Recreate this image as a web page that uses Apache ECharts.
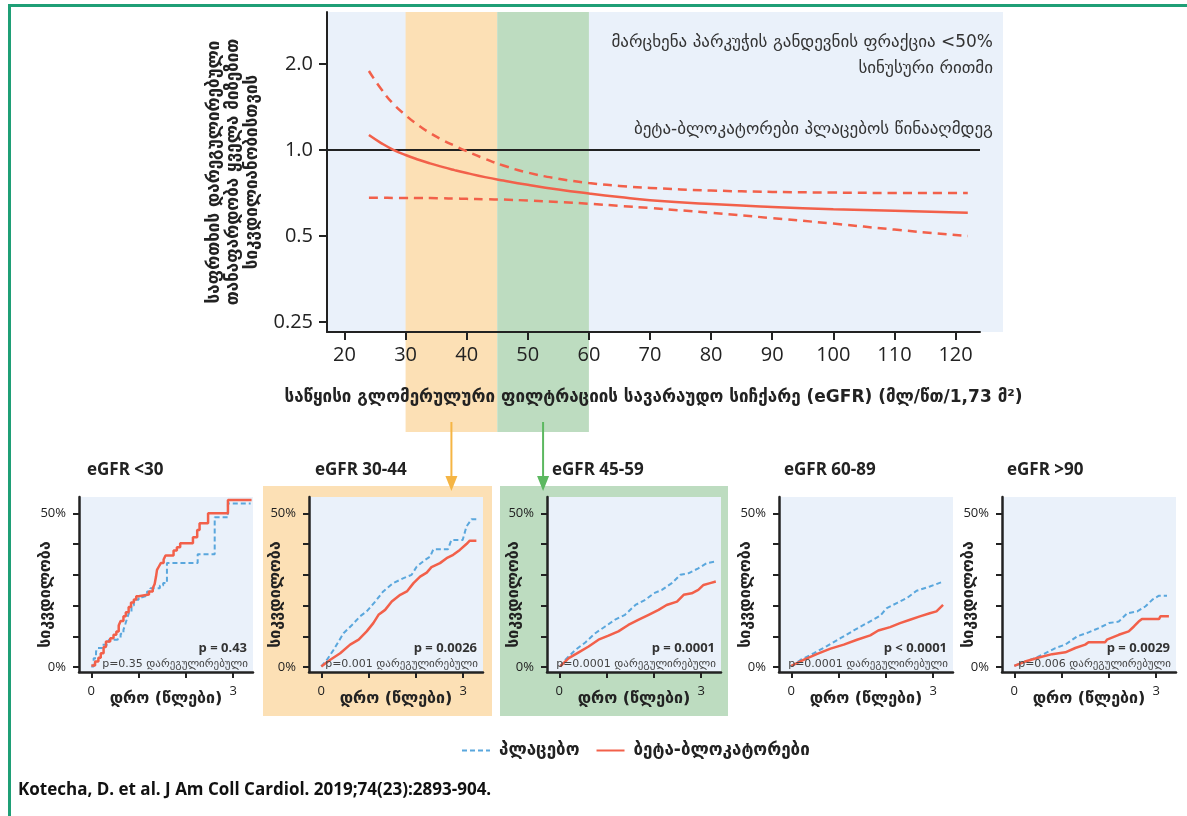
<!DOCTYPE html>
<html><head><meta charset="utf-8">
<script src="https://cdn.jsdelivr.net/npm/echarts@6/dist/echarts.min.js"></script>
<style>html,body{margin:0;padding:0;background:#fff}#c{width:1187px;height:816px}</style>
</head><body><div id="c"></div>
<script>
// ---------------- DATA ----------------
// Main chart: hazard ratio vs baseline eGFR
const egfrX    = [24,26,28,30,32,34,36,38,40,43,46,50,55,60,65,70,80,90,100,110,122];
const hrMain   = [1.128,1.058,1.002,0.961,0.927,0.898,0.873,0.851,0.831,0.804,0.782,0.756,0.728,0.705,0.685,0.668,0.647,0.632,0.621,0.613,0.604];
const hrUpper  = [1.89,1.635,1.449,1.324,1.225,1.147,1.086,1.036,0.991,0.932,0.883,0.834,0.794,0.767,0.749,0.737,0.722,0.714,0.710,0.708,0.708];
const hrLower  = [0.681,0.681,0.680,0.680,0.679,0.679,0.678,0.677,0.675,0.673,0.671,0.666,0.658,0.649,0.638,0.627,0.603,0.578,0.553,0.527,0.50];
const hrTicks      = [0.25,0.5,1,2];
const hrTickLabels = ['0.25','0.5','1.0','2.0'];
const egfrTicks    = [20,30,40,50,60,70,80,90,100,110,120];
const bandRanges   = [[30,45],[45,60]];
const arrowAt      = [37.5,52.5];

// Kaplan-Meier panels: [years, mortality %]
const panelTitles = ['eGFR <30','eGFR 30-44','eGFR 45-59','eGFR 60-89','eGFR >90'];
const pCrude      = ['p = 0.43','p = 0.0026','p = 0.0001','p < 0.0001','p = 0.0029'];
const pAdjusted   = ['p=0.35 დარეგულირებული','p=0.001 დარეგულირებული','p=0.0001 დარეგულირებული','p=0.0001 დარეგულირებული','p=0.006 დარეგულირებული'];

const placebo1 = [[0,0.2],[0.05,2.9],[0.1,5],[0.13,6.2],[0.23,7.3],[0.37,8.9],[0.54,9.4],[0.62,10.8],[0.68,12.1],[0.72,14],[0.76,16],[0.8,17.8],[0.85,20],[0.9,21.9],[1.0,22.7],[1.07,23.2],[1.18,24.6],[1.25,25.6],[1.45,26.5],[1.52,27.3],[1.6,33.8],[2.25,36.7],[2.61,48.7],[2.89,53.2],[3.37,53.2]];
const beta1    = [[0,0.5],[0.08,1.8],[0.15,3],[0.2,4.5],[0.26,6.5],[0.31,8.3],[0.4,9.4],[0.47,10.5],[0.53,11.6],[0.58,13.5],[0.62,15],[0.68,16.5],[0.73,17.8],[0.79,19.5],[0.84,21],[0.9,22],[0.95,23],[1.0,23.6],[1.22,24.6],[1.3,25.6],[1.34,27],[1.37,29.5],[1.39,31.6],[1.43,32.7],[1.47,33.8],[1.53,35],[1.57,36.3],[1.74,37.9],[1.81,39],[1.88,40.3],[2.15,42.2],[2.24,44.6],[2.29,46.8],[2.47,50],[2.89,54.3],[3.39,54.3]];

const placebo2 = [[0,0.2],[0.12,2.4],[0.26,5.6],[0.47,11],[0.65,13.7],[0.82,16.5],[0.96,18.1],[1.14,21.3],[1.31,24.6],[1.52,27.3],[1.74,28.9],[1.91,30],[2.02,32.7],[2.19,34.8],[2.3,35.9],[2.37,38.3],[2.68,38.3],[2.75,41.3],[2.99,41.3],[3.07,45.7],[3.18,48.1],[3.28,48.1]];
const beta2    = [[0,0.2],[0.19,2.4],[0.4,4.5],[0.61,7.3],[0.79,8.9],[0.96,11.6],[1.1,14.3],[1.21,17],[1.35,18.6],[1.49,21.3],[1.67,23.5],[1.81,24.6],[1.95,27.3],[2.09,29.4],[2.23,30.7],[2.33,32.5],[2.51,33.8],[2.65,35.4],[2.79,36.5],[2.93,38.1],[3.07,40],[3.14,41.1],[3.28,41.1]];

const placebo3 = [[0.02,0.2],[0.13,2.4],[0.34,5.6],[0.55,8],[0.76,11],[0.97,13.2],[1.18,15.4],[1.39,17],[1.61,20.2],[1.82,21.9],[2.0,24],[2.17,25.1],[2.38,27.3],[2.56,30],[2.73,30.5],[2.94,32.1],[3.12,33.8],[3.3,34.3]];
const beta3    = [[0.02,0.2],[0.2,2.9],[0.41,4.8],[0.62,6.7],[0.83,8.9],[1.04,10.2],[1.25,11.6],[1.46,13.7],[1.68,15.4],[1.89,17],[2.1,18.6],[2.27,20.2],[2.49,21.3],[2.63,23.5],[2.8,24],[2.94,25.1],[3.05,26.7],[3.19,27.3],[3.31,27.8]];

const placebo4 = [[0,0.2],[0.2,2.4],[0.48,4.5],[0.76,6.9],[1.04,9.4],[1.32,11.9],[1.6,14.3],[1.88,16.7],[2.02,19.2],[2.23,20.8],[2.44,22.4],[2.65,24.8],[2.93,26.2],[3.21,27.8]];
const beta4    = [[0,0.4],[0.27,2.4],[0.55,4.3],[0.83,6],[1.11,7.3],[1.39,8.9],[1.67,10.3],[1.84,11.9],[2.09,13],[2.3,14.3],[2.51,15.4],[2.72,16.5],[2.93,17.5],[3.07,18.1],[3.21,20.2]];

const placebo5 = [[0,0.4],[0.23,1.8],[0.44,2.9],[0.66,4.5],[0.87,6.2],[1.08,7.3],[1.33,10],[1.57,11.3],[1.79,12.7],[2.0,14.3],[2.21,14.8],[2.39,17.5],[2.6,18.1],[2.77,19.7],[2.92,21.9],[3.06,23.2],[3.23,23.2]];
const beta5    = [[0,0.4],[0.23,1.8],[0.52,3.1],[0.8,4.2],[1.08,4.8],[1.29,6.2],[1.5,7.3],[1.57,8.1],[1.92,8.1],[1.96,8.9],[2.21,10.5],[2.42,11.6],[2.53,13.2],[2.63,14.8],[2.7,15.6],[3.06,15.6],[3.09,16.5],[3.27,16.5]];

const placeboSets = [placebo1,placebo2,placebo3,placebo4,placebo5];
const betaSets    = [beta1,beta2,beta3,beta4,beta5];
const kmYTicks = [0,10,20,30,40,50];
const kmYLabels = [0,50];
const kmXTicks = [0,1,2,3];
const kmXLabels = [0,3];

const NAME_PLACEBO = 'პლაცებო';
const NAME_BETA = 'ბეტა-ბლოკატორები';

// ---------------- LAYOUT ----------------
const FONT = '"Open Sans","DejaVu Sans",sans-serif';
const GEO = '"DejaVu Sans","Open Sans",sans-serif';
const RED = '#f2604a', BLUE = '#5aa7dd', INK = '#222';
const LIGHT = '#eaf1fa', ORANGE = '#fce0b5', GREEN = '#bddcc0';
const panelLeft = [79, 309, 547, 779, 1002];
const titleLeft = [87, 315, 552, 784, 1007];
const PW = 174, PT = 497, PH = 175;

const chart = echarts.init(document.getElementById('c'), null, {renderer:'canvas'});

const grids = [{left:327, top:12, width:653, height:320, show:false}];
const xAxes = [{
  type:'value', gridIndex:0, min:17.14, max:124.0,
  axisLine:{show:true, onZero:false, lineStyle:{color:INK, width:2}},
  axisTick:{show:true, customValues:egfrTicks, length:8, lineStyle:{color:INK, width:2}},
  axisLabel:{customValues:egfrTicks, fontSize:20, color:INK, margin:13, fontFamily:FONT},
  splitLine:{show:false},
  name:'საწყისი გლომერულური ფილტრაციის სავარაუდო სიჩქარე (eGFR) (მლ/წთ/1,73 მ²)',
  nameLocation:'middle', nameGap:57, nameMoveOverlap:false,
  nameTextStyle:{fontSize:17, fontWeight:'bold', color:INK, fontFamily:GEO}
}];
const yAxes = [{
  type:'log', logBase:2, gridIndex:0, min:0.231, max:3.04,
  axisLine:{show:true, onZero:false, lineStyle:{color:INK, width:2}},
  axisTick:{show:true, customValues:hrTicks, length:8, lineStyle:{color:INK, width:2}},
  axisLabel:{customValues:hrTicks, fontSize:20, color:INK, margin:14, fontFamily:FONT,
    formatter:v=>{const i=hrTicks.findIndex(t=>Math.abs(t-v)<1e-6); return i>=0?hrTickLabels[i]:'';}},
  splitLine:{show:false},
  name:'საფრთხის დარეგულირებული\nთანაფარდობა ყველა მიზეზით\nსიკვდილიანობისთვის',
  nameLocation:'middle', nameRotate:90, nameGap:64,
  nameTextStyle:{fontSize:17, fontWeight:'bold', color:INK, lineHeight:19, fontFamily:GEO, align:'center'}
}];
const mainLine = (name, vals, dashed) => ({
  name, type:'line', xAxisIndex:0, yAxisIndex:0, data:egfrX.map((x,i)=>[x,vals[i]]),
  smooth:0.5, symbol:'none',
  lineStyle: dashed ? {color:RED, width:2.5, type:[9,6]} : {color:RED, width:2.5}, z:5
});
const series = [
  Object.assign(mainLine('HR', hrMain, false), {
    markLine:{silent:true, symbol:'none', label:{show:false}, lineStyle:{color:INK, width:2, type:'solid'}, data:[{yAxis:1}]}}),
  mainLine('HR upper', hrUpper, true),
  mainLine('HR lower', hrLower, true)
];
const titles = [];
for (let i=0;i<5;i++){
  const gi = i+1;
  grids.push({left:panelLeft[i], top:PT, width:PW, height:PH, show:true, backgroundColor:LIGHT, borderWidth:0});
  xAxes.push({type:'value', gridIndex:gi, min:-0.26, max:3.42,
    axisLine:{show:true, onZero:false, lineStyle:{color:INK, width:2.5}},
    axisTick:{show:true, customValues:kmXTicks, length:6, lineStyle:{color:INK, width:2}},
    axisLabel:{customValues:kmXLabels, fontSize:13, color:INK, margin:13, fontFamily:FONT},
    splitLine:{show:false},
    name:'დრო (წლები)', nameLocation:'middle', nameGap:19, nameMoveOverlap:false,
    nameTextStyle:{fontSize:16, fontWeight:'bold', color:INK, fontFamily:GEO}});
  yAxes.push({type:'value', gridIndex:gi, min:-1.6, max:55.3,
    axisLine:{show:true, onZero:false, lineStyle:{color:INK, width:2.5}},
    axisTick:{show:true, customValues:kmYTicks, length:6, lineStyle:{color:INK, width:2}},
    axisLabel:{customValues:kmYLabels, fontSize:13, color:INK, margin:13, fontFamily:FONT, formatter:v=>v+'%'},
    splitLine:{show:false},
    name:'სიკვდილობა', nameLocation:'middle', nameRotate:90, nameGap:25, nameMoveOverlap:false,
    nameTextStyle:{fontSize:16, fontWeight:'bold', color:INK, fontFamily:GEO, padding:[0,20,0,0]}});
  series.push({name:NAME_PLACEBO, type:'line', xAxisIndex:gi, yAxisIndex:gi, data:placeboSets[i], symbol:'none',
    step: i===0 ? 'end' : false, lineStyle:{color:BLUE, width:2, type:[5,3]}, itemStyle:{color:BLUE}, z:3});
  series.push({name:NAME_BETA, type:'line', xAxisIndex:gi, yAxisIndex:gi, data:betaSets[i], symbol:'none',
    step: i===0 ? 'end' : false, lineStyle:{color:RED, width:2.5}, itemStyle:{color:RED}, z:4});
  titles.push({text:panelTitles[i], left:titleLeft[i]-5, top:457,
    textStyle:{fontSize:17, fontWeight:'bold', color:INK, fontFamily:FONT}});
}

chart.setOption({
  animation:false,
  backgroundColor:'#fff',
  title:titles,
  grid:grids, xAxis:xAxes, yAxis:yAxes, series:series,
  legend:{data:[NAME_PLACEBO, NAME_BETA], left:456, top:737, itemWidth:28, itemHeight:12, itemGap:16,
    itemStyle:{opacity:0},
    textStyle:{fontSize:17, fontWeight:'bold', color:INK, fontFamily:GEO, padding:[0,0,0,4]}}
});

// ---------------- GRAPHICS (backgrounds, bands, arrows, annotations) ----------------
const px = v => chart.convertToPixel({xAxisIndex:0}, v);
const g = [];
// frame
g.push({type:'rect', shape:{x:8, y:4, width:1179, height:3}, style:{fill:'#1f9f76'}, silent:true, z:-20});
g.push({type:'rect', shape:{x:8, y:4, width:3, height:812}, style:{fill:'#1f9f76'}, silent:true, z:-20});
// main background
g.push({type:'rect', shape:{x:327, y:12, width:676, height:320}, style:{fill:LIGHT}, silent:true, z:-10});
// bands
const bandColors = [ORANGE, GREEN];
bandRanges.forEach((b,i)=>{
  const x0 = px(b[0]), x1 = px(b[1]);
  g.push({type:'rect', shape:{x:x0, y:12, width:x1-x0, height:420}, style:{fill:bandColors[i]}, silent:true, z:-9});
});
// panel boxes
g.push({type:'rect', shape:{x:263, y:486, width:229, height:230}, style:{fill:ORANGE}, silent:true, z:-10});
g.push({type:'rect', shape:{x:500, y:486, width:228, height:230}, style:{fill:GREEN}, silent:true, z:-10});
// arrows
const arrowColors = ['#f5b544', '#5cb860'];
arrowAt.forEach((a,i)=>{
  const x = px(a);
  g.push({type:'line', shape:{x1:x, y1:422, x2:x, y2:480}, style:{stroke:arrowColors[i], lineWidth:2}, silent:true});
  g.push({type:'polygon', shape:{points:[[x-6,476],[x+6,476],[x,491]]}, style:{fill:arrowColors[i]}, silent:true});
});
// annotations
const annFont = '17px '+GEO;
g.push({type:'text', x:993, y:43, style:{text:'მარცხენა პარკუჭის განდევნის ფრაქცია <50%', font:annFont, fill:'#333', align:'right', verticalAlign:'middle'}, silent:true});
g.push({type:'text', x:993, y:69, style:{text:'სინუსური რითმი', font:annFont, fill:'#333', align:'right', verticalAlign:'middle'}, silent:true});
g.push({type:'text', x:993, y:130, style:{text:'ბეტა-ბლოკატორები პლაცებოს წინააღმდეგ', font:annFont, fill:'#333', align:'right', verticalAlign:'middle'}, silent:true});
// p values
for (let i=0;i<5;i++){
  const r = panelLeft[i] + PW - 6;
  g.push({type:'text', x:r, y:648, style:{text:pCrude[i], font:'bold 13px '+FONT, fill:'#333', align:'right', verticalAlign:'middle'}, silent:true, z:10});
  g.push({type:'text', x:r+1, y:664, style:{text:pAdjusted[i], font:'11px '+GEO, fill:'#444', align:'right', verticalAlign:'middle'}, silent:true, z:10});
}
// citation
g.push({type:'text', x:18, y:790, style:{text:'Kotecha, D. et al. J Am Coll Cardiol. 2019;74(23):2893-904.', font:'bold 17px '+FONT, fill:'#111', align:'left', verticalAlign:'middle'}, silent:true});

chart.setOption({graphic:g});
</script></body></html>
